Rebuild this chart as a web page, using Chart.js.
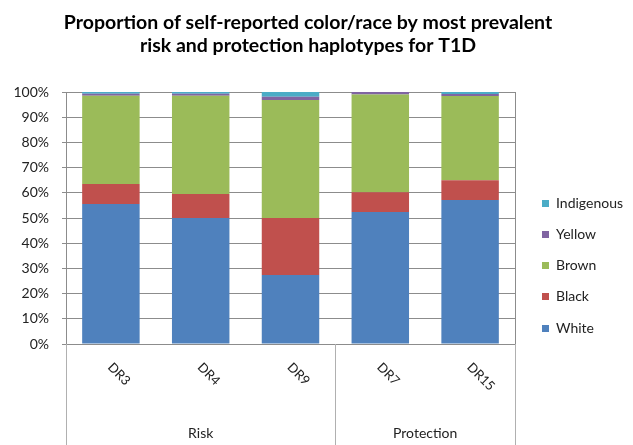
<!DOCTYPE html>
<html>
<head>
<meta charset="utf-8">
<script src="https://cdn.jsdelivr.net/npm/chart.js@4"></script>
<style>
  html, body { margin: 0; padding: 0; background: #fff; }
  canvas { display: block; }
</style>
</head>
<body>
<canvas id="chart" width="633" height="445"></canvas>
<script>
var haplotypes = ['DR3', 'DR4', 'DR9', 'DR7', 'DR15'];
var groupNames = ['Risk', 'Protection'];
var groupSizes = [3, 2];

var white = [55.6, 50.0, 27.4, 52.4, 57.1];
var black = [7.9, 9.5, 22.6, 7.8, 7.9];
var brown = [35.0, 39.0, 46.8, 38.8, 33.4];
var yellow = [0.8, 0.8, 1.3, 1.0, 0.8];
var indigenous = [0.7, 0.7, 2.0, 0.1, 0.8];

var yTicks = [0, 10, 20, 30, 40, 50, 60, 70, 80, 90, 100];

var titleLines = [
    'Proportion of self-reported color/race by most prevalent',
    'risk and protection haplotypes for T1D'
];

var FONT = 'Lato, "Open Sans", sans-serif';

(function() {
    function series(label, values, color) {
        return {
            label: label,
            data: values,
            backgroundColor: color,
            borderWidth: 0,
            barPercentage: 0.64,
            categoryPercentage: 1.0
        };
    }

    // title, legend, rotated labels and group labels
    var extras = {
        id: 'extras',
        afterDraw: function(chart) {
            var ctx = chart.ctx;
            var area = chart.chartArea;
            var x = chart.scales.x;
            ctx.save();

            // title
            ctx.fillStyle = '#000';
            ctx.font = 'bold 19.5px ' + FONT;
            ctx.textAlign = 'center';
            ctx.textBaseline = 'middle';
            ctx.fillText(titleLines[0], 308, 23);
            ctx.fillText(titleLines[1], 308, 46);

            // plot border on the right
            ctx.strokeStyle = '#8c8c8c';
            ctx.lineWidth = 1;
            ctx.beginPath();
            ctx.moveTo(Math.round(area.right) + 0.5, area.top);
            ctx.lineTo(Math.round(area.right) + 0.5, area.bottom);
            ctx.stroke();

            // category divider lines under the axis
            var splits = [area.left, area.right];
            var idx = 0;
            for (var g = 0; g < groupSizes.length - 1; g++) {
                idx += groupSizes[g];
                splits.push((x.getPixelForValue(idx - 1) + x.getPixelForValue(idx)) / 2);
            }
            ctx.strokeStyle = '#b0b0b0';
            splits.forEach(function(px) {
                ctx.beginPath();
                ctx.moveTo(Math.round(px) + 0.5, area.bottom);
                ctx.lineTo(Math.round(px) + 0.5, chart.height);
                ctx.stroke();
            });

            // rotated category labels
            ctx.fillStyle = '#222';
            ctx.font = '13px ' + FONT;
            ctx.textAlign = 'left';
            ctx.textBaseline = 'middle';
            haplotypes.forEach(function(h, i) {
                var px = x.getPixelForValue(i);
                ctx.save();
                ctx.translate(px - 1, area.bottom + 21);
                ctx.rotate(Math.PI / 4);
                ctx.fillText(h, 0, 0);
                ctx.restore();
            });

            // group labels
            ctx.font = '14px ' + FONT;
            ctx.textAlign = 'center';
            var start = 0;
            groupNames.forEach(function(name, gi) {
                var end = start + groupSizes[gi];
                var left = start === 0 ? area.left : (x.getPixelForValue(start - 1) + x.getPixelForValue(start)) / 2;
                var right = end === haplotypes.length ? area.right : (x.getPixelForValue(end - 1) + x.getPixelForValue(end)) / 2;
                ctx.fillText(name, (left + right) / 2, 433);
                start = end;
            });

            // legend, top item first
            var sets = chart.data.datasets.slice().reverse();
            sets.forEach(function(ds, i) {
                var cy = 203 + i * 31.3;
                ctx.fillStyle = ds.backgroundColor;
                ctx.fillRect(542, Math.round(cy - 3.5), 7, 7);
                ctx.fillStyle = '#222';
                ctx.textAlign = 'left';
                ctx.fillText(ds.label, 556, cy);
            });

            ctx.restore();
        }
    };

    document.addEventListener('DOMContentLoaded', function() {
        var canvas = document.getElementById('chart');
        new Chart(canvas.getContext('2d'), {
            type: 'bar',
            data: {
                labels: haplotypes,
                datasets: [
                    series('White', white, '#4F81BD'),
                    series('Black', black, '#C0504D'),
                    series('Brown', brown, '#9BBB59'),
                    series('Yellow', yellow, '#8064A2'),
                    series('Indigenous', indigenous, '#4BACC6')
                ]
            },
            options: {
                responsive: false,
                animation: false,
                layout: { padding: { top: 92, right: 118, bottom: 0, left: 0 } },
                plugins: {
                    legend: { display: false },
                    title: { display: false },
                    tooltip: { enabled: false }
                },
                scales: {
                    x: {
                        stacked: true,
                        afterFit: function(scale) { scale.height = 101; },
                        ticks: { display: false },
                        grid: { display: false },
                        border: { display: false }
                    },
                    y: {
                        stacked: true,
                        min: 0,
                        max: 100,
                        afterFit: function(scale) { scale.width = 66; },
                        afterBuildTicks: function(scale) {
                            scale.ticks = yTicks.map(function(v) { return { value: v }; });
                        },
                        ticks: {
                            color: '#222',
                            font: { family: FONT, size: 14 },
                            padding: 13,
                            callback: function(v) { return v + '%'; }
                        },
                        grid: { color: '#8c8c8c', tickLength: 4 },
                        border: { color: '#8c8c8c' }
                    }
                }
            },
            plugins: [extras]
        });
    });
})();
</script>
</body>
</html>
